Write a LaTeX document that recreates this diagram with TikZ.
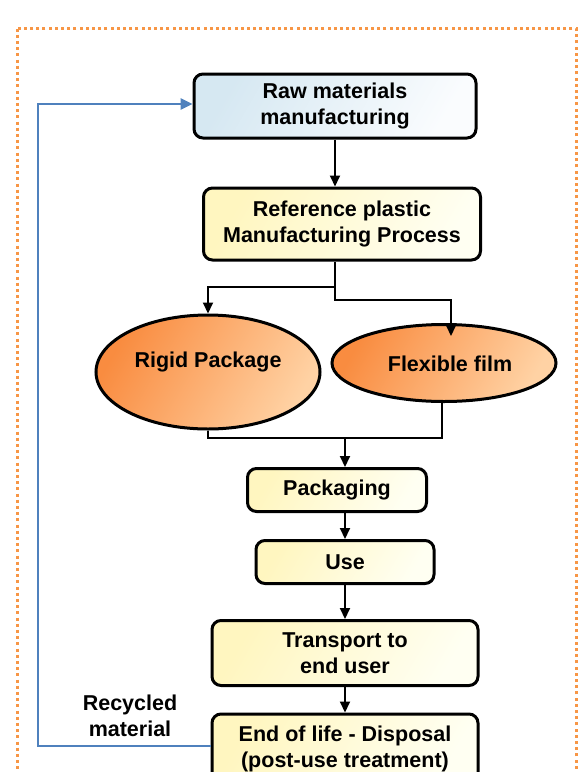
\documentclass[tikz,border=0pt]{standalone}
\usepackage{fontspec}
\setmainfont{Liberation Sans}
\usetikzlibrary{arrows.meta,shapes.geometric}

\definecolor{frameorange}{HTML}{F79646}
\definecolor{loopblue}{HTML}{4F81BD}
\definecolor{rawblue}{HTML}{D6E8F2}
\definecolor{rawwhite}{HTML}{FAFCFE}
\definecolor{boxyellow}{HTML}{FFF6C0}
\definecolor{boxpale}{HTML}{FFFFF2}
\definecolor{ovaldark}{HTML}{F98C40}
\definecolor{ovallight}{HTML}{FFD2A4}

\tikzset{
  every node/.style={font=\fontsize{21.5}{26}\selectfont\bfseries, align=center},
  stagebox/.style={draw=black, line width=3pt, rounded corners=9pt, inner sep=0pt,
    left color=boxyellow, right color=boxpale, shading angle=60},
  rawbox/.style={stagebox, left color=rawblue, right color=rawwhite, shading angle=60},
  oval/.style={ellipse, draw=black, line width=3pt, inner sep=0pt,
    left color=ovaldark, right color=ovallight, shading angle=60},
  conn/.style={draw=black, line width=2pt, -{Triangle[length=11pt,width=10pt]}},
  joint/.style={draw=black, line width=2pt},
  recyc/.style={draw=loopblue, line width=2.5pt, -{Triangle[length=12pt,width=11pt]}},
  outline/.style={draw=frameorange, line width=3pt, dash pattern=on 3pt off 3.2pt}
}

\begin{document}
\begin{tikzpicture}[x=1pt,y=-1pt]
  \useasboundingbox (0,0) rectangle (579,772);
  \clip (0,0) rectangle (579,772);

  % dotted frame round the whole flow
  \draw[outline] (17.5,28.5) rectangle (576,820);

  % process stages
  \node[rawbox, minimum width=282pt, minimum height=64pt] (raw) at (335,106)
    {Raw materials\\manufacturing};
  \node[stagebox, minimum width=277pt, minimum height=72pt] (ref) at (342,224)
    {Reference plastic\\Manufacturing Process};

  \node[oval, minimum width=224pt, minimum height=114pt] (rigid) at (208,372) {};
  \node (rigidtxt) at (208,362) {Rigid Package};
  \node[oval, minimum width=224pt, minimum height=77pt] (flex) at (444,363) {};
  \node (flextxt) at (450,364) {Flexible film};

  \node[stagebox, minimum width=179pt, minimum height=43pt] (pack) at (337,490) {Packaging};
  \node[stagebox, minimum width=178pt, minimum height=43pt] (use) at (345,562) {Use};
  \node[stagebox, minimum width=266pt, minimum height=65pt] (trans) at (345,653)
    {Transport to\\end user};
  \node[stagebox, minimum width=266pt, minimum height=70pt] (end) at (345,749)
    {End of life - Disposal\\(post-use treatment)};

  \node (recyctxt) at (130,716) {Recycled\\material};

  % junction points of the split and merge
  \coordinate (split) at (335,287);
  \coordinate (splitb) at (335,300);
  \coordinate (merge) at (345,438);

  % connectors
  \draw[conn] (raw.south) -- (raw.south |- ref.north);
  \draw[joint] (ref.south -| split) -- (split);
  \draw[conn] (split) -| (rigid.north);
  \draw[conn] (split) -- (splitb) -| ([xshift=7pt,yshift=-13pt]flex.north);
  \draw[joint] (rigid.south) |- (merge) -| ([xshift=-2pt]flex.south);
  \draw[conn] (merge) -- (merge |- pack.north);
  \draw[conn] (merge |- pack.south) -- (merge |- use.north);
  \draw[conn] (use.south) -- (trans.north);
  \draw[conn] (trans.south) -- (end.north);

  % recycling loop back to the raw materials
  \coordinate (loopcorner) at (38,104);
  \draw[recyc] ([yshift=3pt]end.west) -| (loopcorner) -- ([yshift=2pt]raw.west);
\end{tikzpicture}
\end{document}
